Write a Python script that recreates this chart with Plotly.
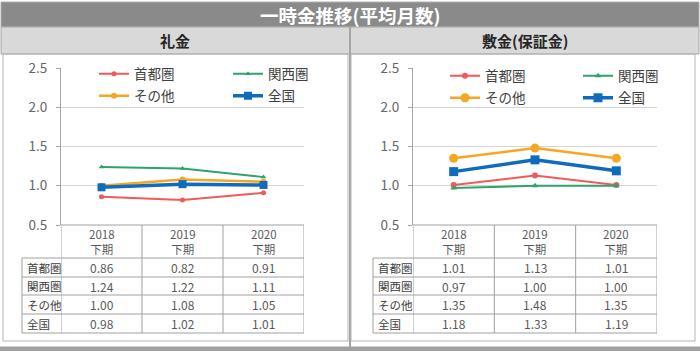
import plotly.graph_objects as go

# ---------------- data ----------------
title_text = "一時金推移(平均月数)"
panel_titles = ["礼金", "敷金(保証金)"]
categories = ["2018", "2019", "2020"]
period_labels = ["2018<br>下期", "2019<br>下期", "2020<br>下期"]
series_names = ["首都圏", "関西圏", "その他", "全国"]
y_ticks = [0.5, 1.0, 1.5, 2.0, 2.5]

reikin_shutoken = [0.86, 0.82, 0.91]
reikin_kansai = [1.24, 1.22, 1.11]
reikin_sonota = [1.00, 1.08, 1.05]
reikin_zenkoku = [0.98, 1.02, 1.01]

shikikin_shutoken = [1.01, 1.13, 1.01]
shikikin_kansai = [0.97, 1.00, 1.00]
shikikin_sonota = [1.35, 1.48, 1.35]
shikikin_zenkoku = [1.18, 1.33, 1.19]

panels_data = [
    [reikin_shutoken, reikin_kansai, reikin_sonota, reikin_zenkoku],
    [shikikin_shutoken, shikikin_kansai, shikikin_sonota, shikikin_zenkoku],
]

# ---------------- style ----------------
W, H = 700, 351
FONT = "Noto Sans CJK JP"
colors = ["#f05a5a", "#2ea36b", "#f5a623", "#0f6cbd"]
symbols = ["circle", "triangle-up", "circle", "square"]
sizes = [[5, 5, 6, 8], [6, 6, 9, 9]]
widths = [2, 2, 2.5, 3.5]


def px(x):
    return x / W


def py(y):
    return 1 - y / H


panels = [
    dict(plot_l=61, plot_r=304, lab_l=22, box_l=3, box_r=348, head_cx=175,
         leg=[(94, 74), (228, 74), (94, 96), (228, 96)]),
    dict(plot_l=413, plot_r=657, lab_l=373, box_l=351, box_r=695, head_cx=525,
         leg=[(445, 76), (578, 76), (445, 98), (578, 98)]),
]
plot_top, plot_bot = 68, 225
row_lines = [258, 277, 295, 314, 333]
head_y = 241

fig = go.Figure()
shapes = []
annotations = []

shapes.append(dict(type="rect", xref="paper", yref="paper", x0=px(1), x1=px(699),
                   y0=py(27), y1=py(2), fillcolor="#8a8a8a",
                   line=dict(color="#b0b0b0", width=1), layer="below"))
shapes.append(dict(type="rect", xref="paper", yref="paper", x0=px(1), x1=px(699),
                   y0=py(54), y1=py(27), fillcolor="#d9d9d9",
                   line=dict(color="#a6a6a6", width=1), layer="below"))
shapes.append(dict(type="line", xref="paper", yref="paper", x0=px(350), x1=px(350),
                   y0=py(27), y1=py(347), line=dict(color="#a6a6a6", width=2), layer="below"))
shapes.append(dict(type="rect", xref="paper", yref="paper", x0=0, x1=1,
                   y0=0, y1=py(346.5), fillcolor="#a0a0a0", line=dict(width=0), layer="below"))
for p in panels:
    shapes.append(dict(type="rect", xref="paper", yref="paper", x0=px(p["box_l"]),
                       x1=px(p["box_r"]), y0=py(341), y1=py(54), fillcolor="rgba(0,0,0,0)",
                       line=dict(color="#b5b5b5", width=1), layer="below"))

annotations.append(dict(text="<b>" + title_text + "</b>", x=0.5, y=py(15), xref="paper",
                        yref="paper", xanchor="center", yanchor="middle", showarrow=False,
                        font=dict(size=18.5, color="white", family=FONT)))

for pi, p in enumerate(panels):
    ax = "" if pi == 0 else str(pi + 1)
    xref = "x" + ax
    annotations.append(dict(text="<b>" + panel_titles[pi] + "</b>", x=px(p["head_cx"]), y=py(41),
                            xref="paper", yref="paper", xanchor="center", yanchor="middle",
                            showarrow=False, font=dict(size=15, color="#262626", family=FONT)))
    for si, name in enumerate(series_names):
        k = pi * 4 + si
        legend_id = "legend" + ("" if k == 0 else str(k + 1))
        fig.add_trace(go.Scatter(
            x=categories, y=panels_data[pi][si], name=name, mode="lines+markers",
            xaxis=xref, yaxis="y" + ax, legend=legend_id,
            line=dict(color=colors[si], width=widths[si]),
            marker=dict(symbol=symbols[si], size=sizes[pi][si], color=colors[si]),
            hoverinfo="x+y+name",
        ))
        lx, ly = p["leg"][si]
        fig.update_layout({legend_id: dict(
            x=px(lx), y=py(ly), xref="paper", yref="paper",
            xanchor="left", yanchor="middle", bgcolor="rgba(0,0,0,0)",
            borderwidth=0, font=dict(size=13.5, color="#404040", family=FONT),
            itemwidth=30, itemclick=False, itemdoubleclick=False)})

    fig.update_layout({
        "xaxis" + ax: dict(domain=[px(p["plot_l"]), px(p["plot_r"])], type="category",
                           range=[-0.5, 2.5], showticklabels=False, showgrid=False,
                           zeroline=False, showline=False, ticks="", anchor="y" + ax,
                           fixedrange=True, automargin=False),
        "yaxis" + ax: dict(domain=[py(plot_bot), py(plot_top)], range=[0.5, 2.5],
                           tickvals=y_ticks, tickformat=".1f", showgrid=True,
                           gridcolor="#d4d4d4", gridwidth=1, zeroline=False,
                           showline=True, linecolor="#a6a6a6", linewidth=1,
                           ticks="outside", ticklen=4, tickcolor="#a6a6a6",
                           ticklabelstandoff=6, anchor="x" + ax, fixedrange=True,
                           automargin=False,
                           tickfont=dict(size=13.5, color="#666666", family=FONT)),
    })

    tcol = "#a0a0a0"
    shapes.append(dict(type="line", xref=xref, yref="paper", x0=-0.5, x1=2.5,
                       y0=py(plot_bot), y1=py(plot_bot), line=dict(color=tcol, width=1)))
    for ry in row_lines:
        shapes.append(dict(type="line", xref="paper", yref="paper", x0=px(p["lab_l"]),
                           x1=px(p["plot_r"]), y0=py(ry), y1=py(ry), line=dict(color=tcol, width=1)))
    shapes.append(dict(type="line", xref="paper", yref="paper", x0=px(p["lab_l"]),
                       x1=px(p["lab_l"]), y0=py(row_lines[0]), y1=py(row_lines[-1]),
                       line=dict(color=tcol, width=1)))
    for b in [-0.5, 0.5, 1.5, 2.5]:
        shapes.append(dict(type="line", xref=xref, yref="paper", x0=b, x1=b,
                           y0=py(plot_bot), y1=py(row_lines[-1]), line=dict(color=tcol, width=1)))
    for ci in range(len(categories)):
        annotations.append(dict(text=period_labels[ci], x=ci, xref=xref, y=py(head_y), yref="paper",
                                xanchor="center", yanchor="middle", showarrow=False,
                                font=dict(size=11.5, color="#595959", family=FONT)))
    for si, name in enumerate(series_names):
        cy = (row_lines[si] + row_lines[si + 1]) / 2
        annotations.append(dict(text=name, x=px(p["lab_l"] + 3), xref="paper", xanchor="left",
                                y=py(cy), yref="paper", yanchor="middle", showarrow=False,
                                font=dict(size=11.5, color="#404040", family=FONT)))
        for ci in range(len(categories)):
            annotations.append(dict(text="%.2f" % panels_data[pi][si][ci], x=ci, xref=xref,
                                    y=py(cy), yref="paper", xanchor="center", yanchor="middle",
                                    showarrow=False,
                                    font=dict(size=12, color="#595959", family=FONT)))

fig.update_layout(
    width=W, height=H, margin=dict(l=0, r=0, t=0, b=0, pad=0, autoexpand=False), autosize=False,
    paper_bgcolor="white", plot_bgcolor="rgba(0,0,0,0)",
    shapes=shapes, annotations=annotations, showlegend=True,
    font=dict(family=FONT),
)

fig.write_html("out.html", config={"displayModeBar": False})
